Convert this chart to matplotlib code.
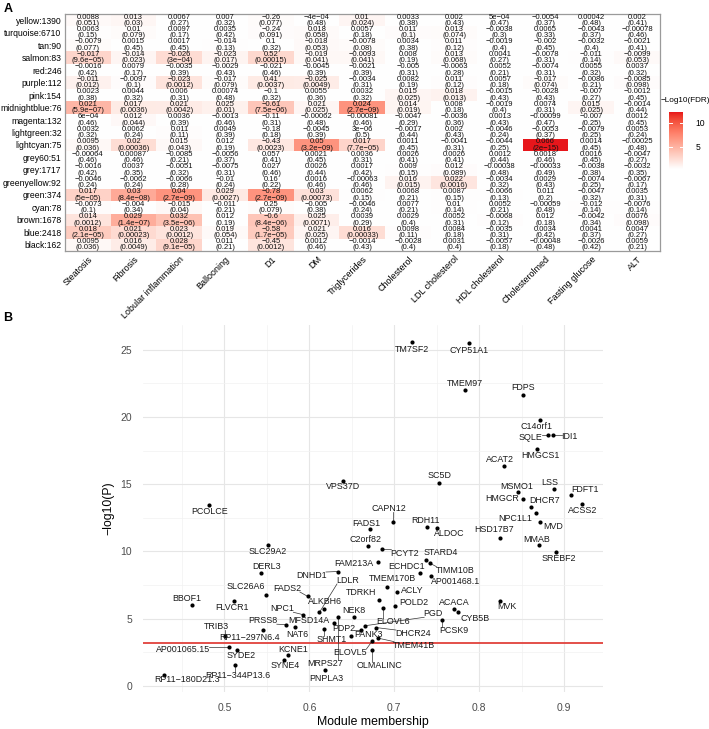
import numpy as np
import matplotlib
matplotlib.use("Agg")
import matplotlib.pyplot as plt
from matplotlib.colors import ListedColormap, to_rgb

plt.rcParams['font.family'] = ['Liberation Sans', 'DejaVu Sans']

# ---------------- data: panel A ----------------
modules = ["yellow:1390", "turquoise:6710", "tan:90", "salmon:83", "red:246", "purple:112",
           "pink:154", "midnightblue:76", "magenta:132", "lightgreen:32", "lightcyan:75",
           "grey60:51", "grey:1717", "greenyellow:92", "green:374", "cyan:78", "brown:1678",
           "blue:2418", "black:162"]
traits = ["Steatosis", "Fibrosis", "Lobular inflammation", "Ballooning", "D1", "DM",
          "Triglycerides", "Cholesterol", "LDL cholesterol", "HDL cholesterol",
          "Cholesterolmed", "Fasting glucose", "ALT"]
cor_values = [
    [0.0088, 0.013, 0.0067, 0.007, -0.26, -4e-04, 0.01, 0.0033, 0.002, 5e-04, -0.0054, 0.00042, 0.002],
    [0.0063, 0.01, 0.0097, 0.0035, -0.24, 0.018, 0.0057, 0.011, 0.013, -0.0038, 0.0065, -0.0043, -0.00078],
    [-0.0079, 0.0015, 0.0017, -0.014, 0.1, -0.018, -0.0078, 0.0034, 0.011, -0.0019, -0.002, -0.0032, -0.0021],
    [-0.017, -0.014, -0.026, -0.023, 0.52, -0.019, -0.0093, 0.008, 0.013, 0.0041, -0.0078, -0.011, -0.0099],
    [-0.0016, 0.0079, -0.0035, -0.0029, -0.021, -0.0045, -0.0021, -0.005, -0.0063, 0.0052, -0.0074, 0.0055, 0.0037],
    [-0.011, -0.0097, -0.023, -0.017, 0.41, -0.025, -0.0034, 0.0082, 0.011, 0.0057, -0.017, -0.0086, -0.0085],
    [0.0023, 0.0044, 0.006, 0.00074, -0.1, 0.0055, 0.0032, 0.015, 0.018, -0.0015, -0.0028, -0.007, -0.0012],
    [0.021, 0.017, 0.021, 0.025, -0.61, 0.021, 0.024, 0.014, 0.008, -0.0019, 0.0074, 0.015, -0.0014],
    [6e-04, 0.012, 0.0036, -0.0013, -0.11, -0.00062, -0.00081, -0.0047, -0.0036, 0.0013, -0.00099, -0.007, 0.0012],
    [0.0032, 0.0062, 0.011, 0.0049, -0.18, -0.0045, 3e-06, -0.0017, 0.002, -0.0046, -0.0053, -0.0079, 0.0053],
    [0.0095, 0.02, 0.015, 0.012, -0.43, 0.05, 0.017, 0.0011, -0.0041, -0.0044, 0.066, 0.0014, -0.00025],
    [-0.00064, 0.00087, -0.0085, -0.0056, 0.057, 0.0021, 0.0036, 0.0026, 0.0026, 0.0012, 0.0018, 0.0016, -0.0047],
    [-0.0016, 0.0037, -0.0051, -0.0075, 0.027, 0.0026, 0.0017, 0.009, 0.012, -0.00038, -0.00033, -0.0038, -0.0032],
    [-0.0046, -0.0062, -0.0066, -0.01, 0.16, 0.0016, -0.00063, 0.016, 0.022, -0.0034, 0.0029, -0.0074, -0.0067],
    [0.017, 0.03, 0.04, 0.029, -0.78, 0.03, 0.0062, 0.0068, 0.0087, -0.0066, 0.011, -0.0047, 0.0035],
    [-0.0073, -0.004, -0.015, -0.011, 0.25, -0.005, -0.0046, 0.0077, 0.01, 0.0052, -0.00059, -0.012, -0.0076],
    [0.014, 0.029, 0.032, 0.012, -0.6, 0.025, 0.0039, 0.0029, 0.0052, -0.0068, 0.012, -0.0042, 0.0076],
    [0.018, 0.021, 0.023, 0.019, -0.58, 0.021, 0.016, 0.0098, 0.0084, -0.0035, 0.0034, 0.0041, 0.0047],
    [0.0095, 0.016, 0.028, 0.011, -0.45, 0.0012, -0.0014, -0.0028, 0.0031, -0.0057, -0.00048, -0.0026, 0.0059],
]
p_values = [
    [0.051, 0.03, 0.27, 0.32, 0.077, 0.48, 0.024, 0.38, 0.43, 0.47, 0.37, 0.48, 0.41],
    [0.15, 0.079, 0.17, 0.42, 0.091, 0.058, 0.18, 0.1, 0.074, 0.3, 0.33, 0.37, 0.46],
    [0.077, 0.45, 0.45, 0.13, 0.32, 0.053, 0.08, 0.38, 0.12, 0.4, 0.45, 0.4, 0.41],
    [9.6e-05, 0.023, 3e-04, 0.017, 0.00015, 0.041, 0.041, 0.19, 0.068, 0.27, 0.31, 0.14, 0.053],
    [0.42, 0.17, 0.39, 0.43, 0.46, 0.39, 0.39, 0.31, 0.28, 0.21, 0.31, 0.32, 0.32],
    [0.012, 0.1, 0.0012, 0.079, 0.0037, 0.0049, 0.31, 0.19, 0.12, 0.18, 0.074, 0.21, 0.098],
    [0.38, 0.32, 0.31, 0.48, 0.32, 0.36, 0.32, 0.025, 0.013, 0.43, 0.43, 0.27, 0.45],
    [5.9e-07, 0.0036, 0.0042, 0.01, 7.5e-06, 0.025, 2.7e-09, 0.019, 0.18, 0.4, 0.31, 0.025, 0.44],
    [0.46, 0.044, 0.39, 0.46, 0.31, 0.48, 0.46, 0.29, 0.36, 0.43, 0.47, 0.25, 0.45],
    [0.32, 0.24, 0.11, 0.39, 0.18, 0.39, 0.5, 0.44, 0.43, 0.24, 0.37, 0.25, 0.24],
    [0.036, 0.00036, 0.043, 0.19, 0.0023, 3.2e-09, 7.7e-05, 0.45, 0.31, 0.25, 2e-15, 0.45, 0.48],
    [0.46, 0.46, 0.21, 0.37, 0.41, 0.45, 0.31, 0.41, 0.41, 0.44, 0.46, 0.45, 0.27],
    [0.42, 0.35, 0.32, 0.31, 0.46, 0.44, 0.42, 0.15, 0.089, 0.48, 0.49, 0.38, 0.35],
    [0.24, 0.24, 0.28, 0.24, 0.22, 0.46, 0.46, 0.015, 0.0016, 0.32, 0.43, 0.25, 0.17],
    [5e-05, 8.4e-08, 2.7e-09, 0.0027, 2.7e-09, 0.00073, 0.15, 0.21, 0.15, 0.13, 0.2, 0.32, 0.31],
    [0.1, 0.34, 0.04, 0.21, 0.079, 0.38, 0.24, 0.21, 0.14, 0.21, 0.48, 0.14, 0.14],
    [0.0012, 1.4e-07, 3.5e-06, 0.19, 8.4e-06, 0.0071, 0.29, 0.4, 0.31, 0.12, 0.18, 0.34, 0.098],
    [2.1e-05, 0.00023, 0.0012, 0.054, 1.7e-05, 0.025, 0.00033, 0.11, 0.18, 0.31, 0.42, 0.37, 0.27],
    [0.036, 0.0049, 9.1e-05, 0.21, 0.0012, 0.46, 0.43, 0.4, 0.4, 0.18, 0.48, 0.42, 0.21],
]

# ---------------- data: panel B ----------------
genes = ["TM7SF2", "CYP51A1", "TMEM97", "FDPS", "C14orf1", "SQLE", "IDI1", "HMGCS1", "ACAT2",
         "SC5D", "MSMO1", "LSS", "FDFT1", "HMGCR", "DHCR7", "ACSS2", "NPC1L1", "MVD", "CAPN12",
         "VPS37D", "PCOLCE", "FADS1", "RDH11", "ALDOC", "HSD17B7", "MMAB", "SREBF2", "PCYT2",
         "STARD4", "TIMM10B", "ECHDC1", "AP001468.1", "TMEM170B", "ACLY", "POLD2", "ACACA",
         "CYB5B", "MVK", "PCSK9", "SLC29A2", "C2orf82", "FAM213A", "DERL3", "DNHD1", "SLC26A6",
         "FADS2", "BBOF1", "FLVCR1", "ALKBH6", "NPC1", "MFSD14A", "PRSS8", "NAT6", "TRIB3",
         "RP11\u2212297N6.4", "SHMT1", "AP001065.15", "SYDE2", "KCNE1", "SYNE4", "PNPLA3",
         "RP11\u2212344P13.6", "RP11\u2212180D21.3", "OLMALINC", "ELOVL5", "TDRKH", "ELOVL6",
         "NEK8", "PDP2", "PANK3", "PGD", "DHCR24", "TMEM41B", "MRPS27", "LDLR"]
module_membership = [0.7205, 0.7877, 0.7830, 0.8523, 0.8722, 0.8809, 0.8871, 0.8687, 0.8288,
                     0.7530, 0.8464, 0.8883, 0.9079, 0.8516, 0.8613, 0.9211, 0.8672, 0.8715, 0.6986,
                     0.6392, 0.4821, 0.6716, 0.7389, 0.7507, 0.8241, 0.8703, 0.8910, 0.6853,
                     0.7378, 0.7420, 0.7307, 0.7436, 0.6912, 0.7029, 0.7009, 0.7710,
                     0.7748, 0.8249, 0.7565, 0.5513, 0.6693, 0.6806, 0.5434, 0.6334, 0.5484,
                     0.5982, 0.4613, 0.5109, 0.6169, 0.5930, 0.6294, 0.5727, 0.5836, 0.5004,
                     0.5454, 0.6177, 0.5055, 0.5149, 0.5747, 0.5696, 0.6188,
                     0.5121, 0.4288, 0.6744, 0.6744, 0.6815, 0.6873,
                     0.6528, 0.6603, 0.6490, 0.6654, 0.6783, 0.6810, 0.6343, 0.6118]
neg_log10_p = [25.60, 25.52, 21.99, 21.64, 19.78, 18.68, 18.68, 17.62, 16.36,
               15.12, 14.40, 14.67, 14.18, 13.93, 13.33, 13.55, 12.88, 12.22, 12.22,
               15.24, 13.46, 11.67, 11.84, 11.77, 11.03, 10.48, 9.96, 10.16,
               9.37, 9.12, 8.42, 8.20, 7.34, 7.01, 5.90, 5.70,
               5.48, 6.32, 4.91, 10.48, 10.43, 9.24, 8.42, 8.50, 6.77,
               6.64, 5.97, 6.34, 5.72, 5.28, 4.66, 4.54, 4.36, 3.67,
               4.11, 4.22, 2.85, 2.68, 2.25, 1.93, 1.14,
               1.51, 0.77, 2.62, 3.35, 6.39, 5.78,
               5.11, 4.11, 3.72, 4.46, 4.33, 3.54, 5.08, 5.45]
threshold = 3.18
x_ticks = [0.5, 0.6, 0.7, 0.8, 0.9]
y_ticks = [0, 5, 10, 15, 20, 25]

# label offsets in pixels (dx right, dy down) - layout only
label_offsets = {
    "TM7SF2": (0, 8), "CYP51A1": (0, 8), "TMEM97": (0, -7), "FDPS": (0, -7),
    "C14orf1": (-4, 7), "SQLE": (-17, 3), "IDI1": (16, 2), "HMGCS1": (3, 7), "ACAT2": (-4, -6),
    "SC5D": (0, -7), "MSMO1": (-2, -6), "LSS": (-4, -6), "FDFT1": (14, -6), "HMGCR": (-21, 0),
    "DHCR7": (13, -6), "ACSS2": (1, 7), "NPC1L1": (-21, 6), "MVD": (13, 5), "CAPN12": (-4, -13),
    "VPS37D": (0, 6), "PCOLCE": (0, 7), "FADS1": (-4, -5), "RDH11": (-2, -6), "ALDOC": (12, 6),
    "HSD17B7": (-5, -8), "MMAB": (-2, -5), "SREBF2": (2, 7), "PCYT2": (23, 4),
    "STARD4": (14, -7), "TIMM10B": (25, 7), "ECHDC1": (-14, -6), "AP001468.1": (24, 6),
    "TMEM170B": (6, -9), "ACLY": (16, -1), "POLD2": (19, -4), "ACACA": (0, -7),
    "CYB5B": (17, 6), "MVK": (7, 6), "PCSK9": (12, 11), "SLC29A2": (0, 7), "C2orf82": (-3, -6),
    "FAM213A": (-24, 2), "DERL3": (5, -6), "DNHD1": (-26, 4), "SLC26A6": (-20, -8),
    "FADS2": (-21, -8), "BBOF1": (-5, -7), "FLVCR1": (-2, 7), "ALKBH6": (1, -7), "NPC1": (-21, -6),
    "MFSD14A": (-25, -3), "PRSS8": (-23, -4), "NAT6": (2, 7), "TRIB3": (-8, -10),
    "RP11\u2212297N6.4": (-13, 7), "SHMT1": (7, 11), "AP001065.15": (-46, 2), "SYDE2": (4, 6),
    "KCNE1": (5, -6), "SYNE4": (2, 6), "PNPLA3": (1, 8), "RP11\u2212344P13.6": (3, 10),
    "RP11\u2212180D21.3": (23, 4), "OLMALINC": (7, 15), "ELOVL5": (-22, 12), "TDRKH": (-17, -7),
    "ELOVL6": (10, 13), "NEK8": (0, -7), "PDP2": (-17, -2), "PANK3": (18, -1), "PGD": (68, -12),
    "DHCR24": (37, 6), "TMEM41B": (36, 7), "MRPS27": (-13, 46), "LDLR": (28, -32),
}

W, H = 709, 729
fig = plt.figure(figsize=(W / 100, H / 100), dpi=100)


def ax_px(l, t, r, b):
    return fig.add_axes([l / W, 1 - b / H, (r - l) / W, (b - t) / H])


def rfmt(v):
    if v == 0:
        return "0"
    mant = float(f"{abs(v):.1e}".split("e")[0])
    sig = 1 if mant == round(mant) else 2
    e = int(np.floor(np.log10(abs(v))))
    d = max(0, sig - 1 - e)
    fixed = f"{v:.{d}f}"
    sci = f"{v:.{sig - 1}e}"
    s = fixed if len(fixed) <= len(sci) else sci
    return s.replace("-", "\u2212")


# Lab interpolation white -> red (ggplot-like gradient)
def rgb_to_lab(c):
    c = np.array(c, dtype=float)
    c = np.where(c <= 0.04045, c / 12.92, ((c + 0.055) / 1.055) ** 2.4)
    X = (0.4124 * c[0] + 0.3576 * c[1] + 0.1805 * c[2]) / 0.95047
    Y = (0.2126 * c[0] + 0.7152 * c[1] + 0.0722 * c[2])
    Z = (0.0193 * c[0] + 0.1192 * c[1] + 0.9505 * c[2]) / 1.08883
    f = lambda t: t ** (1 / 3) if t > 0.008856 else 7.787 * t + 16 / 116
    fx, fy, fz = f(X), f(Y), f(Z)
    return np.array([116 * fy - 16, 500 * (fx - fy), 200 * (fy - fz)])


def lab_to_rgb(lab):
    L, a, b = lab[:, 0], lab[:, 1], lab[:, 2]
    fy = (L + 16) / 116.0
    fx = fy + a / 500.0
    fz = fy - b / 200.0
    finv = lambda t: np.where(t ** 3 > 0.008856, t ** 3, (t - 16 / 116.0) / 7.787)
    X = 0.95047 * finv(fx)
    Y = finv(fy)
    Z = 1.08883 * finv(fz)
    r = 3.2406 * X - 1.5372 * Y - 0.4986 * Z
    g = -0.9689 * X + 1.8758 * Y + 0.0415 * Z
    bb = 0.0557 * X - 0.2040 * Y + 1.0570 * Z
    rgb = np.clip(np.stack([r, g, bb], -1), 0, 1)
    rgb = np.where(rgb <= 0.0031308, 12.92 * rgb, 1.055 * rgb ** (1 / 2.4) - 0.055)
    return np.clip(rgb, 0, 1)


lo = rgb_to_lab(to_rgb("#FFFFFF"))
hi = rgb_to_lab(to_rgb("#E8161B"))
tt = np.linspace(0, 1, 256)[:, None]
cmap = ListedColormap(lab_to_rgb(lo + (hi - lo) * tt))

# FDR (Benjamini-Hochberg over all cells)
P = np.array(p_values, dtype=float)
flat = P.ravel()
n = flat.size
order = np.argsort(flat)
ranked = flat[order] * n / np.arange(1, n + 1)
q = np.minimum.accumulate(ranked[::-1])[::-1]
fdr = np.empty(n)
fdr[order] = np.minimum(q, 1)
score = -np.log10(fdr).reshape(P.shape)
vmin, vmax = score.min(), score.max()

# ---------------- Panel A ----------------
axA = ax_px(65, 14, 660, 251)
axA.imshow(score, cmap=cmap, vmin=vmin, vmax=vmax, aspect="auto", interpolation="nearest",
           extent=(-0.5, len(traits) - 0.5, len(modules) - 0.5, -0.5))
C = np.array(cor_values)
for i in range(len(modules)):
    for j in range(len(traits)):
        axA.text(j, i, rfmt(C[i, j]) + "\n(" + rfmt(P[i, j]) + ")", ha="center", va="center",
                 fontsize=5.5, linespacing=0.88, color="#111111")
axA.set_xticks(range(len(traits)))
axA.set_xticklabels(traits, rotation=45, ha="right", rotation_mode="anchor", fontsize=6.5)
axA.set_yticks(range(len(modules)))
axA.set_yticklabels(modules, fontsize=6.2)
axA.tick_params(length=0, pad=2.5)
for s in axA.spines.values():
    s.set_color("#9a9a9a")
    s.set_linewidth(0.9)

# colorbar
axC = ax_px(669, 112, 683, 169)
grad = np.linspace(vmax, vmin, 200)[:, None]
axC.imshow(grad, cmap=cmap, vmin=vmin, vmax=vmax, aspect="auto", extent=(0, 1, vmin, vmax))
axC.set_xlim(0, 1)
axC.set_ylim(vmin, vmax)
axC.set_xticks([])
axC.yaxis.tick_right()
axC.set_yticks([5, 10])
axC.set_yticklabels(["5", "10"], fontsize=6.2)
axC.tick_params(axis="y", length=0, pad=9)
for v in [5, 10]:
    axC.plot([0, 0.2], [v, v], color="white", lw=0.7)
    axC.plot([0.8, 1], [v, v], color="white", lw=0.7)
for s in axC.spines.values():
    s.set_visible(False)
fig.text(661 / W, 1 - 101 / H, "\u2212Log10(FDR)", fontsize=5.9, ha="left", va="center")

fig.text(8 / W, 1 - 9 / H, "A", fontsize=9, fontweight="bold", ha="center", va="center")
fig.text(8 / W, 1 - 318 / H, "B", fontsize=9, fontweight="bold", ha="center", va="center")

# ---------------- Panel B ----------------
axB = ax_px(143, 325, 603, 692)
axB.set_xlim(0.404, 0.946)
axB.set_ylim(-0.47, 26.85)
for s in axB.spines.values():
    s.set_visible(False)
axB.set_xticks(x_ticks)
axB.set_yticks(y_ticks)
axB.set_xticklabels([f"{v:g}" for v in x_ticks])
axB.set_yticklabels([str(v) for v in y_ticks])
axB.set_xticks([0.45, 0.55, 0.65, 0.75, 0.85], minor=True)
axB.set_yticks([2.5, 7.5, 12.5, 17.5, 22.5], minor=True)
axB.grid(True, which="major", color="#E6E6E6", lw=0.8)
axB.grid(True, which="minor", color="#F2F2F2", lw=0.5)
axB.set_axisbelow(True)
axB.tick_params(which="both", length=0, labelsize=7.5, labelcolor="#4D4D4D", pad=8)
axB.set_xlabel("Module membership", fontsize=8.8, labelpad=2)
axB.set_ylabel("\u2212log10(P)", fontsize=8.8, labelpad=4)
axB.axhline(threshold, color="#E0413C", lw=1.3, zorder=2)
axB.scatter(module_membership, neg_log10_p, s=9, color="black", zorder=4, linewidths=0)

anns = []
for g, x, y in zip(genes, module_membership, neg_log10_p):
    dx, dy = label_offsets.get(g, (0, 7))
    a = axB.annotate(g, (x, y), xytext=(dx, -dy), textcoords="offset pixels",
                     ha="center", va="center", fontsize=6.4, color="#1a1a1a", zorder=5)
    anns.append((a, x, y))

fig.canvas.draw()
renderer = fig.canvas.get_renderer()
inv = axB.transData.inverted()
for a, x, y in anns:
    bb = a.get_window_extent(renderer)
    px, py = axB.transData.transform((x, y))
    cx = min(max(px, bb.x0 + 1), bb.x1 - 1)
    cy = min(max(py, bb.y0 + 1), bb.y1 - 1)
    d = np.hypot(cx - px, cy - py)
    if d > 6:
        p0 = inv.transform((px, py))
        p1 = inv.transform((cx, cy))
        axB.plot([p0[0], p1[0]], [p0[1], p1[1]], color="#333333", lw=0.5, zorder=3)

fig.savefig("out.png", dpi=100)
